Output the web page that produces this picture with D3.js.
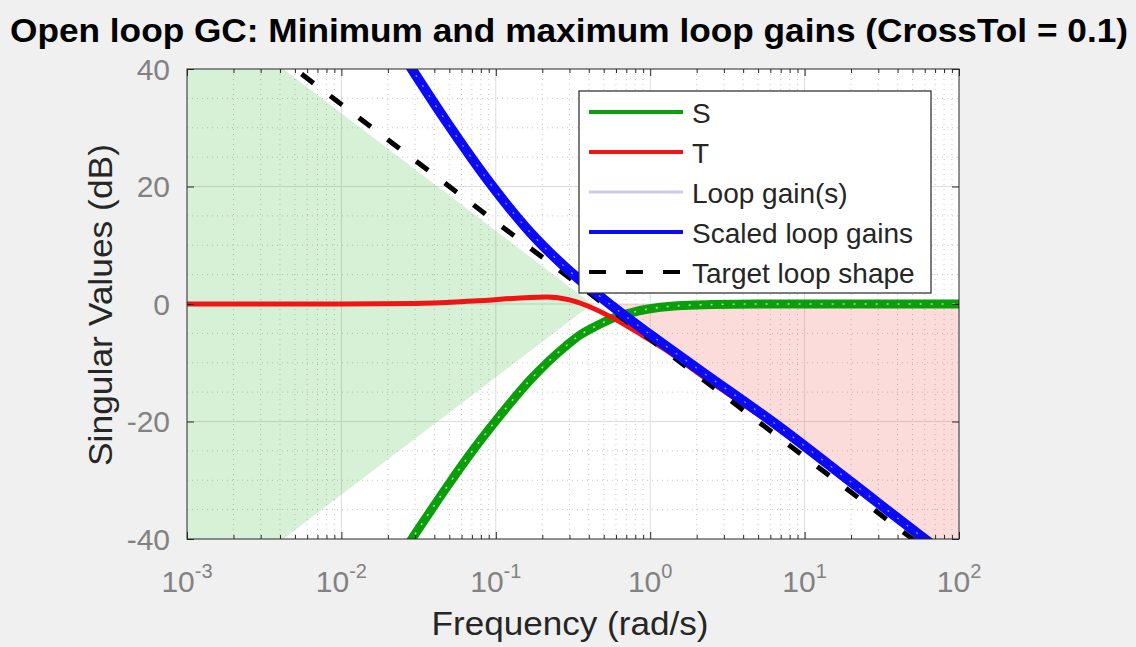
<!DOCTYPE html>
<html>
<head>
<meta charset="utf-8">
<script src="https://cdn.jsdelivr.net/npm/d3@7"></script>
<style>
  html, body { margin: 0; padding: 0; background: #f0f0f0; }
  svg { display: block; font-family: "Liberation Sans", Arial, Helvetica, sans-serif; }
</style>
</head>
<body>
<svg id="chart" width="1136" height="647"></svg>
<script>
// ---------------- data ----------------
const X_DOMAIN = [1e-3, 1e2];
const Y_DOMAIN = [-40, 40];
const X_TICKS = [1e-3, 1e-2, 1e-1, 1e0, 1e1, 1e2];
const X_TICK_EXP = ["-3", "-2", "-1", "0", "1", "2"];
const Y_TICKS = [-40, -20, 0, 20, 40];
const Y_MINOR = [-35, -30, -25, -15, -10, -5, 5, 10, 15, 25, 30, 35];

// S (sensitivity)
const S_FREQ = [0.025, 0.0286, 0.0483, 0.0711, 0.102, 0.166, 0.289, 0.35, 0.45, 0.574, 0.75, 0.95, 1.5, 2.5, 5, 100];
const S_DB   = [-42.3, -40, -31.1, -24.9, -19.6, -13.0, -7.0, -5.3, -3.7, -2.4, -1.5, -0.9, -0.3, -0.1, 0, 0];

// T (complementary sensitivity)
const T_FREQ = [0.001, 0.01, 0.03, 0.071, 0.215, 0.3, 0.39, 0.574, 0.86, 1.29, 2, 5, 10, 30, 100];
const T_DB   = [0, 0, 0.1, 0.5, 1.2, 0.7, -0.3, -2.4, -5.1, -8, -11.6, -18.8, -24.6, -34.2, -44.7];

// Loop gain(s) (hidden beneath the scaled loop gains)
const L_FREQ = [0.025, 0.0286, 0.0483, 0.0916, 0.167, 0.289, 0.5, 1, 2, 6.93, 20, 60, 100];
const L_DB   = [42.4, 40, 30.9, 20.6, 12.2, 6.0, 0.8, -5.2, -10.9, -21.0, -30.3, -40, -44.4];

// Scaled loop gains
const SL_FREQ = [0.025, 0.0286, 0.0483, 0.0916, 0.167, 0.289, 0.5, 1, 2, 6.93, 20, 60, 100];
const SL_DB   = [42.4, 40, 30.9, 20.6, 12.2, 6.0, 0.8, -5.2, -10.9, -21.0, -30.3, -40, -44.4];

// Target loop shape
const TGT_FREQ = [0.001, 0.01, 0.1, 1, 10, 100];
const TGT_DB   = [53.98, 33.98, 13.98, -6.02, -26.02, -46.02];

// Shaded regions (min / max loop gain bounds)
const MIN_REGION_FREQ = [0.001, 0.0042, 0.42, 0.0042, 0.001];
const MIN_REGION_DB   = [40, 40, 0, -40, -40];
const MAX_REGION_FREQ = [0.63, 100, 100, 63];
const MAX_REGION_DB   = [0, 0, -40, -40];

const LEGEND_LABELS = ["S", "T", "Loop gain(s)", "Scaled loop gains", "Target loop shape"];

// ---------------- layout ----------------
const svg = d3.select("#chart");
const L = 187, R = 959, T = 69, B = 539;
const x = d3.scaleLog().domain(X_DOMAIN).range([L, R]);
const y = d3.scaleLinear().domain(Y_DOMAIN).range([B, T]);

const zip = (f, v) => f.map((d, i) => [d, v[i]]);

svg.append("rect").attr("width", 1136).attr("height", 647).attr("fill", "#f0f0f0");
svg.append("rect").attr("x", L).attr("y", T).attr("width", R - L).attr("height", B - T).attr("fill", "#ffffff");

svg.append("defs").append("clipPath").attr("id", "plotclip")
  .append("rect").attr("x", L).attr("y", T).attr("width", R - L).attr("height", B - T);

const plot = svg.append("g").attr("clip-path", "url(#plotclip)");

// grid
const minorX = [];
for (let e = -3; e < 2; e++) for (let k = 2; k <= 9; k++) minorX.push(k * Math.pow(10, e));
plot.append("g").selectAll("line").data(minorX).join("line")
  .attr("x1", d => x(d)).attr("x2", d => x(d)).attr("y1", T).attr("y2", B)
  .attr("stroke", "#c4c4c4").attr("stroke-width", 1).attr("stroke-dasharray", "1,4");
plot.append("g").selectAll("line").data(Y_MINOR).join("line")
  .attr("x1", L).attr("x2", R).attr("y1", d => y(d)).attr("y2", d => y(d))
  .attr("stroke", "#c4c4c4").attr("stroke-width", 1).attr("stroke-dasharray", "1,4");
plot.append("g").selectAll("line").data(X_TICKS.slice(1, -1)).join("line")
  .attr("x1", d => x(d)).attr("x2", d => x(d)).attr("y1", T).attr("y2", B)
  .attr("stroke", "#dcdcdc").attr("stroke-width", 1);
plot.append("g").selectAll("line").data(Y_TICKS.slice(1, -1)).join("line")
  .attr("x1", L).attr("x2", R).attr("y1", d => y(d)).attr("y2", d => y(d))
  .attr("stroke", "#dcdcdc").attr("stroke-width", 1);

// shaded regions (semi transparent, grid shows through)
const area = d3.line().x(d => x(d[0])).y(d => y(d[1]));
plot.append("path").attr("d", area(zip(MIN_REGION_FREQ, MIN_REGION_DB)) + "Z")
  .attr("fill", "rgb(0,170,0)").attr("fill-opacity", 0.16);
plot.append("path").attr("d", area(zip(MAX_REGION_FREQ, MAX_REGION_DB)) + "Z")
  .attr("fill", "rgb(240,40,40)").attr("fill-opacity", 0.17);

// curves
const line = d3.line().curve(d3.curveMonotoneX).x(d => x(d[0])).y(d => y(d[1]));
const GREEN = "#0b9e0b", RED = "#f01414", LAV = "#c9c9f2", BLUE = "#0a0af5";

plot.append("path").attr("d", line(zip(S_FREQ, S_DB))).attr("fill", "none")
  .attr("stroke", GREEN).attr("stroke-width", 9).attr("stroke-linejoin", "round");
plot.append("path").attr("d", line(zip(S_FREQ, S_DB))).attr("fill", "none")
  .attr("stroke", "#e8f6e8").attr("stroke-width", 1.6).attr("stroke-dasharray", "2,9").attr("opacity", 0.7);

plot.append("path").attr("d", line(zip(T_FREQ, T_DB))).attr("fill", "none")
  .attr("stroke", RED).attr("stroke-width", 5).attr("stroke-linejoin", "round");

plot.append("path").attr("d", line(zip(L_FREQ, L_DB))).attr("fill", "none")
  .attr("stroke", LAV).attr("stroke-width", 3);

plot.append("path").attr("d", line(zip(TGT_FREQ, TGT_DB))).attr("fill", "none")
  .attr("stroke", "#000").attr("stroke-width", 5).attr("stroke-dasharray", "15,21");

plot.append("path").attr("d", line(zip(SL_FREQ, SL_DB))).attr("fill", "none")
  .attr("stroke", BLUE).attr("stroke-width", 10).attr("stroke-linejoin", "round");
plot.append("path").attr("d", line(zip(SL_FREQ, SL_DB))).attr("fill", "none")
  .attr("stroke", "#e6e6ff").attr("stroke-width", 1.4).attr("stroke-dasharray", "2,10").attr("opacity", 0.55);

// axes box + inward ticks (D3 axes)
const AX = "#262626";
const fmtNone = () => "";
const minorTicksX = minorX;
function addAxis(axisGen, transform) {
  const g = svg.append("g").attr("transform", transform).call(axisGen);
  g.select(".domain").remove();
  g.selectAll(".tick line").attr("stroke", AX);
  g.selectAll("text").remove();
  return g;
}
addAxis(d3.axisBottom(x).tickValues(X_TICKS).tickSize(-7).tickFormat(fmtNone), `translate(0,${B})`);
addAxis(d3.axisBottom(x).tickValues(minorTicksX).tickSize(-4).tickFormat(fmtNone), `translate(0,${B})`);
addAxis(d3.axisTop(x).tickValues(X_TICKS).tickSize(-7).tickFormat(fmtNone), `translate(0,${T})`);
addAxis(d3.axisTop(x).tickValues(minorTicksX).tickSize(-4).tickFormat(fmtNone), `translate(0,${T})`);
addAxis(d3.axisLeft(y).tickValues(Y_TICKS).tickSize(-7).tickFormat(fmtNone), `translate(${L},0)`);
addAxis(d3.axisRight(y).tickValues(Y_TICKS).tickSize(-7).tickFormat(fmtNone), `translate(${R},0)`);

svg.append("rect").attr("x", L).attr("y", T).attr("width", R - L).attr("height", B - T)
  .attr("fill", "none").attr("stroke", AX).attr("stroke-width", 1);

// tick labels
const TICK_COLOR = "#828282";
svg.append("g").selectAll("text").data(Y_TICKS).join("text")
  .attr("x", 170).attr("y", d => y(d) + 10.5)
  .attr("text-anchor", "end").attr("font-size", 30).attr("fill", TICK_COLOR)
  .text(d => d);

const xt = svg.append("g").selectAll("text").data(X_TICKS).join("text")
  .attr("x", d => x(d)).attr("y", 592)
  .attr("text-anchor", "middle").attr("font-size", 30).attr("fill", TICK_COLOR);
xt.append("tspan").text("10");
xt.append("tspan").attr("dy", -14).attr("font-size", 20).text((d, i) => X_TICK_EXP[i]);

// axis labels and title
svg.append("text").attr("x", 570).attr("y", 635).attr("text-anchor", "middle")
  .attr("font-size", 33).attr("fill", "#262626")
  .attr("textLength", 277).attr("lengthAdjust", "spacingAndGlyphs")
  .text("Frequency (rad/s)");

svg.append("text").attr("transform", "translate(112,305) rotate(-90)")
  .attr("text-anchor", "middle").attr("font-size", 34).attr("fill", "#262626")
  .attr("textLength", 322).attr("lengthAdjust", "spacingAndGlyphs")
  .text("Singular Values (dB)");

svg.append("text").attr("x", 569).attr("y", 42).attr("text-anchor", "middle")
  .attr("font-size", 33).attr("font-weight", "bold").attr("fill", "#000")
  .attr("textLength", 1118).attr("lengthAdjust", "spacingAndGlyphs")
  .text("Open loop GC: Minimum and maximum loop gains (CrossTol = 0.1)");

// legend
const lg = svg.append("g");
lg.append("rect").attr("x", 579).attr("y", 91).attr("width", 352).attr("height", 202)
  .attr("fill", "#ffffff").attr("stroke", AX).attr("stroke-width", 1.2);
const LEG_STYLE = [
  { c: GREEN, w: 4, dash: null },
  { c: RED, w: 4, dash: null },
  { c: LAV, w: 3, dash: null },
  { c: BLUE, w: 4, dash: null },
  { c: "#000", w: 4, dash: "17,20" }
];
const legY = d3.scalePoint().domain(LEGEND_LABELS).range([112, 272]);
LEGEND_LABELS.forEach((lab, i) => {
  const yy = legY(lab);
  lg.append("line").attr("x1", 589).attr("x2", 683).attr("y1", yy).attr("y2", yy)
    .attr("stroke", LEG_STYLE[i].c).attr("stroke-width", LEG_STYLE[i].w)
    .attr("stroke-dasharray", LEG_STYLE[i].dash);
  lg.append("text").attr("x", 692).attr("y", yy + 11).attr("font-size", 28)
    .attr("fill", "#262626").text(lab);
});
</script>
</body>
</html>
